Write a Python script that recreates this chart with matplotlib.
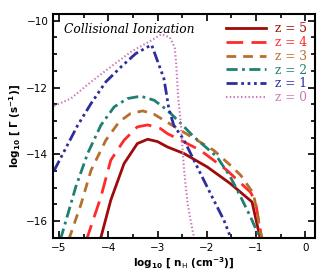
import matplotlib
matplotlib.use("Agg")
import matplotlib.pyplot as plt
from matplotlib.ticker import MultipleLocator

# ---- data (log10 nH, log10 Gamma) ----
x_z5 = [-4.16, -3.95, -3.68, -3.41, -3.2, -3.0, -2.8, -2.46, -1.99, -1.52, -1.08, -0.91]
y_z5 = [-16.55, -15.38, -14.28, -13.68, -13.55, -13.62, -13.78, -13.98, -14.38, -14.88, -15.43, -16.55]

x_z4 = [-4.45, -4.15, -3.95, -3.68, -3.41, -3.2, -2.94, -2.8, -2.13, -1.59, -1.11, -1.01, -0.88]
y_z4 = [-16.6, -15.28, -14.18, -13.58, -13.18, -13.12, -13.23, -13.38, -13.88, -14.48, -15.14, -15.43, -16.55]

x_z3 = [-4.8, -4.55, -4.35, -4.05, -3.78, -3.55, -3.3, -3.07, -2.87, -1.86, -1.52, -1.31, -1.05, -0.88]
y_z3 = [-16.55, -15.48, -14.48, -13.58, -13.03, -12.78, -12.70, -12.8, -12.98, -13.88, -14.33, -14.63, -15.18, -16.55]

x_z2 = [-4.97, -4.66, -4.42, -4.15, -3.88, -3.61, -3.34, -3.07, -2.8, -2.53, -2.26, -1.79, -1.52, -1.31, -1.11, -0.91]
y_z2 = [-16.55, -14.98, -13.98, -13.13, -12.58, -12.33, -12.26, -12.38, -12.68, -13.07, -13.48, -14.08, -14.68, -15.28, -15.88, -16.55]

x_z1 = [-5.1, -4.62, -4.35, -4.05, -3.74, -3.44, -3.12, -2.87, -2.77, -2.67, -2.46, -2.16, -1.89, -1.65, -1.5]
y_z1 = [-14.49, -13.13, -12.48, -11.83, -11.38, -10.98, -10.72, -11.73, -12.63, -13.13, -13.58, -14.48, -15.28, -15.98, -16.55]

x_z0 = [-5.1, -4.76, -4.35, -3.95, -3.54, -3.14, -2.92, -2.75, -2.65, -2.62, -2.58, -2.53, -2.46, -2.39, -2.3, -2.25]
y_z0 = [-12.55, -12.33, -11.83, -11.38, -10.93, -10.6, -10.4, -10.5, -10.8, -11.3, -12.3, -13.03, -14.48, -15.47, -16.2, -16.55]

labels = ["z = 5", "z = 4", "z = 3", "z = 2", "z = 1", "z = 0"]
title_text = "Collisional Ionization"
xlabel = r"log$_{10}$ [ n$_{\rm H}$ (cm$^{-3}$)]"
ylabel = r"log$_{10}$ [ $\Gamma$ (s$^{-1}$)]"

series = [(x_z5, y_z5), (x_z4, y_z4), (x_z3, y_z3), (x_z2, y_z2), (x_z1, y_z1), (x_z0, y_z0)]
colors = ["#9E0B0B", "#FF2A2A", "#B5702C", "#1E7F72", "#2D2E9C", "#CC78BC"]
styles = ["-", (0, (6, 3)), (0, (3.5, 2.5)), (0, (4, 1.6, 1, 1.6)),
          (0, (4, 1.3, 1, 1.3, 1, 1.3, 1, 1.3)), (0, (0.7, 1.1))]
widths = [2.0, 2.0, 2.0, 2.0, 2.0, 1.5]

plt.rcParams['mathtext.default'] = 'bf'
fig = plt.figure(figsize=(3.32, 2.77), dpi=100)
ax = fig.add_axes([0.16, 0.142, 0.789, 0.807])

for (xs, ys), c, ls, lw, lab in zip(series, colors, styles, widths, labels):
    ax.plot(xs, ys, color=c, linestyle=ls, linewidth=lw, label=lab)

ax.set_xlim(-5.12, 0.2)
ax.set_ylim(-16.5, -9.8)
ax.xaxis.set_major_locator(MultipleLocator(1))
ax.xaxis.set_minor_locator(MultipleLocator(0.5))
ax.yaxis.set_major_locator(MultipleLocator(2))
ax.yaxis.set_minor_locator(MultipleLocator(0.5))
ax.tick_params(which='both', direction='in', top=True, right=True, width=1.2,
               labelsize=7.5)
ax.tick_params(which='major', length=5)
ax.tick_params(which='minor', length=3)
ax.set_xticks([-5, -4, -3, -2, -1, 0])
ax.set_xticklabels(["\u22125", "\u22124", "\u22123", "\u22122", "\u22121", "0"])
ax.set_yticks([-16, -14, -12, -10])
ax.set_yticklabels(["\u221216", "\u221214", "\u221212", "\u221210"])
for s in ax.spines.values():
    s.set_linewidth(1.5)

ax.set_xlabel(xlabel, fontsize=7.5, fontweight='bold', labelpad=2)
ax.set_ylabel(ylabel, fontsize=7.5, fontweight='bold', labelpad=2)

ax.text(0.04, 0.93, title_text, transform=ax.transAxes, fontsize=8.8,
        family='DejaVu Serif', style='italic', va='center', ha='left')

leg = ax.legend(loc='upper right', frameon=False,
                handlelength=3.3, handletextpad=0.7, labelspacing=0.07,
                borderaxespad=0.25, prop={'family': 'DejaVu Serif', 'size': 8.8},
                labelcolor='linecolor')

fig.savefig("out.png", dpi=100)
